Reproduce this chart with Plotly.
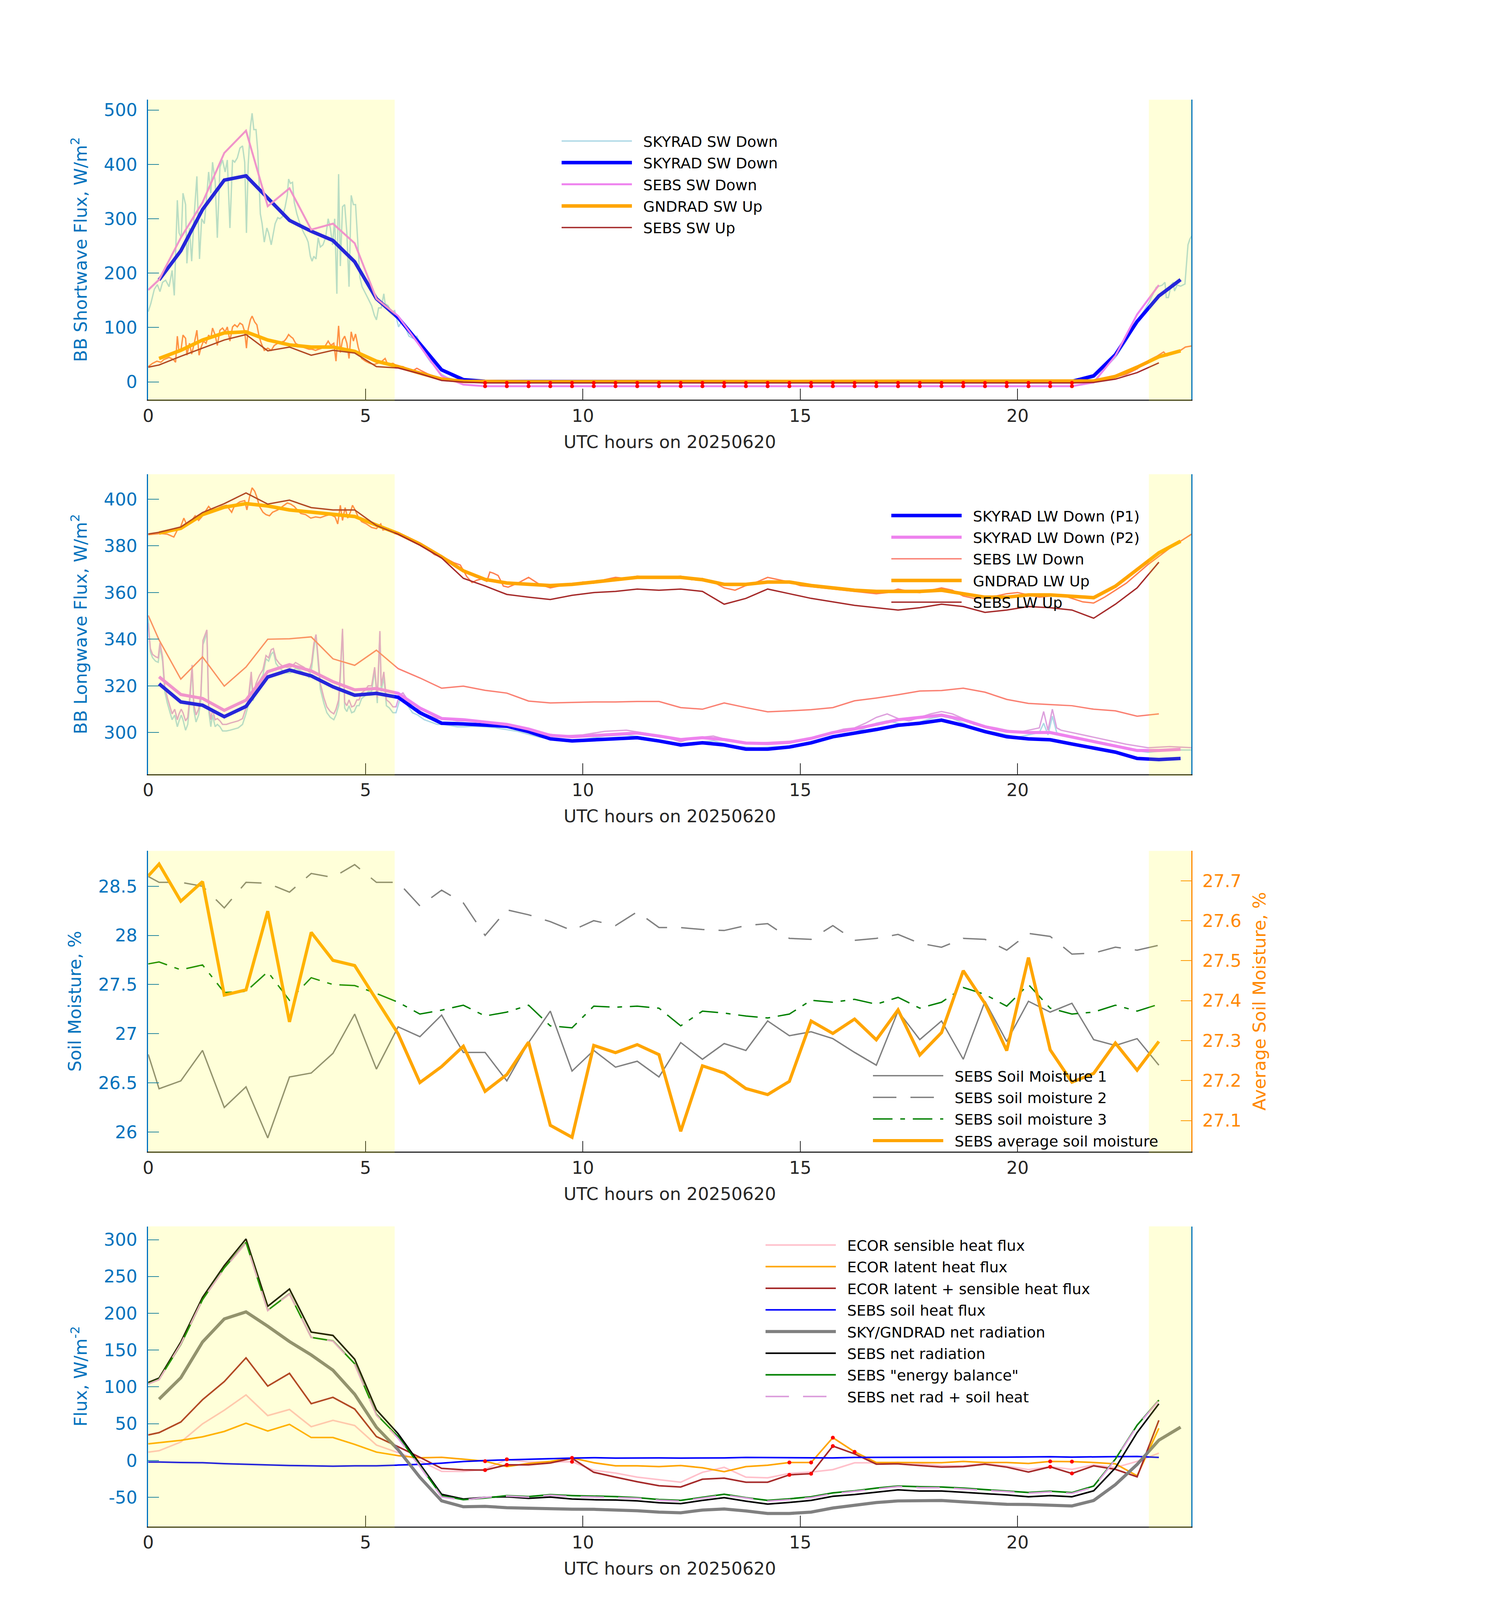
import numpy as np
import plotly.graph_objects as go

# ---------------- time bases ----------------
t_sky = np.arange(0.25, 24.0, 0.5)                                # SKYRAD/GNDRAD 30-min means
t_sebs = np.concatenate([[0.0], np.arange(0.25, 23.5, 0.5)])       # SEBS / ECOR 30-min

# ---------------- panel 1 : shortwave ----------------
sky_sw_dn = [187.5, 241, 317, 371, 379, 338, 297, 277, 260, 221, 153, 118, 70, 22, 4, 1.0,
             0.6, 0.5, 0.5, 0.5, 0.5, 0.5, 0.5, 0.5, 0.5, 0.5, 0.5, 0.5, 0.5,
             0.5, 0.5, 0.5, 0.5, 0.5, 0.5, 0.5, 0.5, 0.5, 0.5, 0.5, 0.5, 0.5,
             0.8, 11, 50, 111, 158, 188]
sebs_sw_dn = [169, 188, 265, 330, 421, 462, 323, 356, 280, 291, 255, 153, 121, 66, 11, -5,
              -8, -8, -8, -8, -8, -8, -8, -8, -8, -8, -8, -8, -8, -8,
              -8, -8, -8, -8, -8, -8, -8, -8, -8, -8, -8, -8, -8, -8,
              -1, 48, 124, 178]
gnd_sw_up = [43, 58, 77, 90, 92, 77, 68, 64, 64, 56, 38, 28, 16, 5, 1, 0.3,
             0.2, 0.2, 0.2, 0.2, 0.2, 0.2, 0.2, 0.2, 0.2, 0.2, 0.2, 0.2, 0.2,
             0.2, 0.2, 0.2, 0.2, 0.2, 0.2, 0.2, 0.2, 0.2, 0.2, 0.2, 0.2, 0.2,
             0.3, 1.5, 10, 27, 46, 57]
sebs_sw_up = [27, 31, 47, 62, 77, 87, 57, 64, 49, 58, 53, 28, 25.5, 15, 2.6, -0.5,
              -2, -2, -2, -2, -2, -2, -2, -2, -2, -2, -2, -2, -2, -2,
              -2, -2, -2, -2, -2, -2, -2, -2, -2, -2, -2, -2, -2, -2,
              -1, 5, 17, 35]

# 1-minute SKYRAD SW down
sw1m_t = [0, 0.06, 0.14, 0.21, 0.27, 0.33, 0.4, 0.48, 0.55, 0.6, 0.67, 0.71, 0.76, 0.8, 0.86, 0.89, 0.95,
          1.0, 1.06, 1.12, 1.18, 1.23, 1.29, 1.33, 1.39, 1.44, 1.48, 1.54, 1.59, 1.65, 1.71, 1.77, 1.82,
          1.88, 1.94, 1.99, 2.05, 2.11, 2.17, 2.22, 2.26, 2.3, 2.35, 2.39, 2.43, 2.48, 2.52, 2.58, 2.62,
          2.67, 2.73, 2.77, 2.83, 2.88, 2.92, 2.98, 3.03, 3.09, 3.15, 3.2, 3.23, 3.27, 3.32, 3.36, 3.42,
          3.47, 3.53, 3.58, 3.64, 3.68, 3.73, 3.77, 3.81, 3.86, 3.91, 3.96, 4.02, 4.08, 4.14, 4.19, 4.24,
          4.29, 4.34, 4.38, 4.42, 4.47, 4.52, 4.57, 4.62, 4.67, 4.72, 4.77, 4.82, 4.87, 4.92, 4.98, 5.06,
          5.14, 5.2, 5.25, 5.3, 5.36, 5.42, 5.45, 5.52, 5.59, 5.67, 5.76, 5.82, 5.91, 6.0, 6.1, 6.18,
          6.27, 6.39, 6.5, 6.61, 6.73, 6.88, 7.03, 7.18, 7.33, 7.5, 21.4, 21.5, 21.75, 22.0, 22.25, 22.5,
          22.75, 23.03, 23.19, 23.33, 23.39, 23.42, 23.47, 23.53, 23.58, 23.61, 23.67, 23.75, 23.85,
          23.89, 23.92, 23.96, 24.0]
sw1m_v = [129, 144, 170, 179, 166, 183, 187, 175, 205, 159, 334, 274, 265, 347, 326, 218, 283,
          222, 309, 378, 226, 300, 291, 326, 386, 347, 404, 369, 265, 395, 408, 386, 408,
          283, 408, 404, 412, 430, 434, 404, 274, 399, 468, 494, 464, 464, 425, 309, 291,
          257, 283, 274, 252, 274, 291, 302, 300, 304, 322, 343, 373, 365, 367, 330, 309,
          296, 283, 274, 265, 257, 231, 222, 231, 226, 265, 248, 252, 265, 300, 283, 252,
          300, 162, 382, 213, 322, 326, 274, 175, 343, 326, 326, 257, 192, 175, 166, 153,
          140, 123, 114, 136, 136, 162, 144, 140, 127, 131, 101, 110, 101, 84, 80, 84,
          67, 49, 36, 28, 15, 8, 4, 2, 1, 0.3, 0.3, 2, 8, 25, 45, 75,
          110, 147, 174, 178, 183, 155, 155, 178, 183, 167, 178, 176, 180,
          219, 252, 262, 268]
# 1-minute GNDRAD SW up
gsw1m_t = [0, 0.1, 0.2, 0.29, 0.36, 0.48, 0.58, 0.63, 0.67, 0.71, 0.76, 0.8, 0.86, 0.89, 0.95, 1.0,
           1.06, 1.12, 1.17, 1.21, 1.27, 1.33, 1.39, 1.44, 1.48, 1.54, 1.59, 1.65, 1.71, 1.77, 1.82,
           1.88, 1.94, 1.99, 2.05, 2.11, 2.17, 2.22, 2.26, 2.3, 2.35, 2.39, 2.45, 2.5, 2.55, 2.6, 2.67,
           2.75, 2.83, 2.9, 2.98, 3.05, 3.13, 3.18, 3.23, 3.28, 3.33, 3.39, 3.47, 3.55, 3.62, 3.7, 3.77,
           3.85, 3.92, 4.0, 4.08, 4.14, 4.2, 4.27, 4.32, 4.38, 4.42, 4.47, 4.52, 4.57, 4.62, 4.67, 4.72,
           4.77, 4.83, 4.91, 5.0, 5.1, 5.2, 5.35, 5.45, 5.51, 5.63, 5.74, 5.86, 5.97, 6.1, 6.18, 6.27,
           6.42, 6.58, 6.73, 6.95, 7.18, 7.4, 21.5, 21.75, 22.0, 22.25, 22.5, 22.75, 23.03, 23.2, 23.36,
           23.44, 23.56, 23.75, 23.86, 24.0]
gsw1m_v = [28, 34, 38, 36, 41, 45, 41, 36, 84, 54, 62, 86, 80, 49, 71, 51,
           71, 95, 49, 62, 75, 71, 86, 80, 99, 86, 67, 95, 99, 92, 101,
           75, 101, 105, 101, 108, 105, 92, 62, 97, 114, 121, 110, 105, 84, 71, 58,
           62, 58, 67, 71, 73, 75, 80, 87, 83, 80, 71, 67, 64, 62, 60, 60,
           58, 60, 62, 67, 75, 67, 71, 38, 103, 54, 77, 84, 71, 43, 92, 75,
           88, 64, 43, 38, 34, 32, 36, 43, 32, 34, 28, 28, 23, 21, 25, 21,
           15, 10, 5, 3, 1, 0.3, 0.3, 1, 4, 9, 14, 24, 40, 47, 55,
           48, 54, 58, 64, 66]

# ---------------- panel 2 : longwave ----------------
sky_lw_p1 = [320.9, 313.1, 311.7, 306.8, 311.2, 323.8, 326.8, 324.3, 319.6, 316.0, 316.8, 315.1,
             308.5, 304.0, 303.7, 303.2, 302.7, 300.4, 297.3, 296.4, 296.9, 297.3, 297.8, 296.4,
             294.7, 295.6, 294.7, 292.9, 292.9, 293.8, 295.6, 298.2, 299.6, 301.3, 303.1, 304.0,
             305.3, 303.1, 300.4, 298.2, 297.3, 296.9, 295.1, 293.3, 291.6, 288.9, 288.4, 288.9]
sky_lw_p2 = [323.9, 316.3, 314.6, 309.5, 313.9, 326.1, 329.1, 326.4, 321.8, 318.3, 318.9, 316.8,
             310.5, 306.0, 305.5, 304.5, 303.5, 301.5, 298.8, 298.2, 298.8, 299.5, 299.8, 298.5,
             297.0, 297.8, 297.0, 295.5, 295.3, 295.8, 297.5, 300.0, 301.5, 303.5, 305.5, 306.5,
             307.5, 305.5, 302.5, 300.5, 300.0, 300.0, 298.0, 296.0, 294.0, 292.3, 292.3, 292.8]
sebs_lw_dn = [350.2, 339.7, 322.9, 332.4, 319.9, 328.1, 340.0, 340.2, 341.0, 331.6, 328.8, 335.3,
              327.4, 323.4, 319.0, 319.9, 318.1, 316.9, 313.5, 312.7, 312.9, 313.1, 313.1, 313.3,
              313.3, 310.7, 310.0, 312.7, 310.7, 308.9, 309.3, 309.8, 310.7, 313.6, 314.8, 316.2,
              317.8, 318.0, 319.0, 317.3, 314.2, 312.5, 312.0, 311.5, 310.0, 309.3, 307.0, 308.0]
gnd_lw_up = [385.5, 387.5, 393.4, 396.6, 398.1, 397.1, 395.4, 394.4, 393.6, 392.6, 388.9, 385.3,
             380.8, 375.3, 369.3, 365.6, 364.1, 363.5, 363.0, 363.5, 364.5, 365.5, 366.5, 366.5,
             366.5, 365.5, 363.5, 363.5, 364.5, 364.5, 363.0, 362.0, 361.0, 360.5, 360.5, 360.5,
             361.0, 359.5, 358.0, 358.0, 359.0, 359.0, 358.5, 357.8, 362.7, 370.0, 377.0, 382.0]
sebs_lw_up = [385.1, 385.8, 388.1, 394.3, 398.1, 402.7, 397.9, 399.6, 396.4, 395.4, 395.4, 388.7,
              385.0, 380.3, 374.8, 366.1, 362.8, 359.2, 358.0, 357.0, 358.8, 360.0, 360.5, 361.5,
              361.0, 361.5, 360.5, 355.0, 357.5, 361.5, 359.5, 357.5, 356.0, 354.5, 353.5, 352.5,
              353.5, 355.0, 354.0, 351.5, 352.5, 354.0, 353.5, 352.5, 349.0, 355.0, 362.0, 373.0]

# 1-minute LW down (both pyrgeometers) and LW up
lw1m_t = [0, 0.05, 0.1, 0.17, 0.23, 0.27, 0.33, 0.38, 0.44, 0.5, 0.55, 0.61, 0.67, 0.71, 0.76, 0.8,
          0.86, 0.91, 0.95, 1.01, 1.05, 1.1, 1.16, 1.21, 1.26, 1.3, 1.35, 1.39, 1.44, 1.48, 1.54, 1.59,
          1.65, 1.71, 1.8, 1.88, 1.97, 2.07, 2.17, 2.24, 2.3, 2.37, 2.41, 2.48, 2.56, 2.64, 2.71, 2.77,
          2.83, 2.88, 2.94, 3.02, 3.09, 3.18, 3.28, 3.39, 3.48, 3.58, 3.7, 3.76, 3.81, 3.86, 3.91, 3.96,
          4.04, 4.11, 4.19, 4.27, 4.32, 4.38, 4.42, 4.47, 4.52, 4.57, 4.62, 4.68, 4.74, 4.8, 4.85, 4.91,
          4.98, 5.06, 5.14, 5.21, 5.27, 5.33, 5.36, 5.42, 5.48, 5.55, 5.63, 5.7, 5.78, 5.86, 5.97, 6.08,
          6.2, 6.35, 6.5, 6.65, 6.8, 6.95, 7.11, 7.26, 7.48, 7.75, 8.0, 8.5, 9.0, 9.5, 10.0, 10.5, 11.0,
          11.5, 12.0, 12.25, 12.5, 12.75, 13.0, 13.5, 14.0, 14.5, 15.0, 15.5, 16.0, 16.25, 16.5, 16.75,
          17.0, 17.25, 17.5, 17.75, 18.0, 18.25, 18.5, 18.75, 19.0, 19.5, 20.0, 20.25, 20.5, 20.6, 20.7,
          20.8, 20.9, 21.0, 21.5, 22.0, 22.5, 23.0, 23.5, 24.0]
lw1m_p1 = [348.7, 334.6, 332.1, 330.6, 330.1, 336.6, 330.6, 317.6, 312.6, 308.5, 305.5, 307.5, 302.5, 305.0, 307.5, 305.5,
           301.0, 303.5, 311.5, 327.6, 309.5, 304.5, 307.5, 313.6, 337.7, 339.7, 343.2, 309.5, 302.5, 307.5, 302.5, 303.5,
           302.5, 300.7, 300.7, 301.0, 301.5, 302.0, 303.5, 307.5, 311.5, 324.1, 313.6, 318.6, 322.1, 324.6, 331.6, 330.6,
           333.6, 334.6, 329.6, 327.6, 326.6, 325.6, 325.6, 327.6, 326.8, 325.6, 323.6, 327.6, 335.6, 341.7, 329.6, 318.6,
           312.6, 308.5, 306.5, 305.5, 307.5, 311.5, 323.6, 343.7, 310.5, 309.0, 311.5, 308.5, 309.0, 311.5, 311.5, 314.6,
           315.6, 317.6, 317.6, 326.6, 312.6, 342.7, 317.6, 323.6, 311.5, 310.5, 308.5, 308.5, 313.6, 314.6, 311.5, 308.5,
           307.5, 305.5, 304.5, 303.5, 303.5, 303.0, 302.5, 302.5, 302.7, 302.5, 302.0, 300.5, 298.0, 296.5, 297.0, 298.5, 299.0,
           297.5, 295.5, 294.0, 295.5, 296.0, 296.5, 294.0, 293.5, 294.0, 294.5, 297.0, 299.5, 300.0, 302.0, 304.0,
           305.0, 304.0, 303.0, 304.5, 306.0, 307.0, 306.0, 304.0, 301.5, 300.0, 298.0, 299.0, 300.0, 304.0, 299.0,
           307.0, 300.0, 299.0, 297.0, 295.0, 293.0, 291.5, 292.5, 292.5]
lw1m_p2 = [347.0, 336.0, 333.5, 332.5, 332.0, 338.5, 332.5, 320.0, 315.0, 311.0, 308.0, 310.0, 305.5, 308.0, 310.0, 308.5,
           305.0, 306.5, 314.0, 329.0, 312.0, 307.5, 310.0, 316.0, 339.5, 341.5, 344.0, 312.0, 305.5, 310.0, 305.5, 306.0,
           305.0, 303.5, 303.5, 304.0, 304.5, 305.0, 306.0, 310.0, 314.0, 326.0, 316.0, 321.0, 324.5, 327.0, 333.0, 332.0,
           335.5, 336.0, 331.5, 329.5, 328.5, 328.0, 328.0, 330.0, 329.0, 328.0, 326.0, 330.0, 338.0, 342.0, 332.0, 321.0,
           315.0, 311.0, 309.0, 308.0, 310.0, 314.0, 326.0, 344.5, 313.0, 311.5, 314.0, 311.0, 311.5, 314.0, 314.0, 317.0,
           318.0, 320.0, 320.0, 328.0, 315.0, 343.5, 320.0, 326.0, 314.0, 313.0, 311.0, 311.0, 316.0, 317.0, 314.0, 311.0,
           310.0, 308.0, 307.0, 306.0, 306.0, 305.5, 305.0, 305.0, 305.0, 304.5, 304.0, 302.5, 300.0, 298.5, 299.0, 300.5, 301.0,
           299.5, 297.5, 296.0, 297.5, 298.0, 298.5, 296.0, 295.5, 296.0, 296.5, 299.0, 301.5, 302.0, 304.0, 306.5,
           308.0, 306.0, 305.0, 306.5, 308.0, 309.0, 308.0, 306.0, 303.5, 302.0, 300.0, 301.0, 302.0, 309.0, 301.0,
           310.0, 302.0, 301.0, 299.0, 297.0, 295.0, 293.5, 294.0, 293.5]
lwu1m_t = [0, 0.14, 0.29, 0.44, 0.59, 0.67, 0.74, 0.82, 0.89, 1.0, 1.08, 1.16, 1.23, 1.3, 1.39, 1.46,
           1.58, 1.69, 1.8, 1.92, 1.99, 2.11, 2.22, 2.27, 2.33, 2.39, 2.45, 2.5, 2.56, 2.64, 2.71, 2.79,
           2.86, 2.98, 3.09, 3.2, 3.28, 3.36, 3.43, 3.51, 3.62, 3.74, 3.85, 3.96, 4.08, 4.19, 4.3, 4.36,
           4.42, 4.47, 4.53, 4.59, 4.65, 4.7, 4.76, 4.83, 4.91, 5.02, 5.14, 5.25, 5.35, 5.4, 5.52, 5.67,
           5.82, 5.97, 6.12, 6.27, 6.42, 6.58, 6.73, 6.88, 7.03, 7.18, 7.33, 7.45, 7.56, 7.67, 7.79, 7.86,
           7.94, 8.05, 8.17, 8.28, 8.5, 8.75, 9.0, 9.25, 9.5, 9.75, 10.0, 10.25, 10.5, 10.75, 11.0, 11.25,
           11.5, 11.75, 12.0, 12.25, 12.5, 12.75, 13.0, 13.25, 13.5, 13.75, 14.0, 14.25, 14.5, 14.75, 15.0,
           15.25, 15.5, 15.75, 16.0, 16.25, 16.5, 16.75, 17.0, 17.25, 17.5, 17.75, 18.0, 18.25, 18.5, 18.75,
           19.0, 19.25, 19.5, 19.75, 20.0, 20.25, 20.5, 20.75, 21.0, 21.25, 21.5, 21.75, 22.0, 22.25, 22.5,
           22.75, 23.0, 23.25, 23.5, 23.75, 24.0]
lwu1m_v = [384.8, 385.1, 385.3, 385.0, 383.8, 386.8, 387.9, 391.9, 388.9, 390.9, 392.9, 390.9, 392.4, 394.4, 396.9, 395.4,
           395.9, 396.9, 397.4, 394.4, 397.4, 398.9, 399.4, 395.4, 400.9, 404.9, 403.4, 400.9, 396.9, 394.4, 393.4, 392.9,
           394.4, 395.4, 396.9, 398.4, 397.9, 396.9, 395.4, 393.9, 393.4, 391.9, 392.4, 392.1, 392.9, 393.4, 392.4, 389.4,
           397.4, 390.9, 396.4, 391.9, 394.4, 397.4, 395.4, 392.4, 390.4, 389.4, 387.9, 387.4, 389.4, 386.8, 387.4, 385.3,
           384.8, 383.8, 381.8, 380.3, 378.8, 376.3, 375.3, 374.3, 372.8, 371.8, 366.8, 364.3, 365.3, 365.8, 364.8, 368.8,
           368.3, 367.3, 362.8, 362.3, 364.0, 366.5, 363.5, 362.0, 363.0, 363.5, 364.5, 364.0, 365.5, 366.5, 366.0, 367.0,
           366.5, 366.5, 366.5, 367.0, 365.5, 366.0, 364.5, 362.0, 361.0, 363.0, 364.5, 366.5, 365.5, 364.5, 363.0,
           362.5, 362.0, 361.5, 361.0, 360.5, 360.0, 359.5, 360.0, 361.5, 360.5, 360.0, 361.0, 362.0, 361.0, 358.5,
           357.5, 358.0, 358.5, 359.5, 360.0, 359.0, 358.0, 358.5, 359.0, 357.5, 356.0, 355.5, 358.0, 361.0, 364.0,
           368.0, 372.0, 375.5, 379.0, 382.0, 385.0]

# ---------------- panel 3 : soil moisture ----------------
sm1 = [26.79, 26.44, 26.52, 26.83, 26.25, 26.46, 25.94, 26.56, 26.60, 26.80, 27.20, 26.64,
       27.07, 26.97, 27.19, 26.81, 26.81, 26.52, 26.91, 27.23, 26.62, 26.83, 26.66, 26.72,
       26.56, 26.91, 26.74, 26.90, 26.83, 27.13, 26.98, 27.02, 26.95, 26.81, 26.68, 27.23,
       26.94, 27.13, 26.74, 27.33, 26.92, 27.33, 27.22, 27.31, 26.94, 26.88, 26.95, 26.68]
sm2 = [28.60, 28.54, 28.54, 28.50, 28.28, 28.54, 28.53, 28.44, 28.63, 28.59, 28.72, 28.54,
       28.54, 28.30, 28.46, 28.33, 28.00, 28.26, 28.21, 28.14, 28.05, 28.15, 28.10, 28.24,
       28.08, 28.08, 28.06, 28.05, 28.10, 28.12, 27.97, 27.96, 28.10, 27.95, 27.97, 28.01,
       27.92, 27.88, 27.97, 27.96, 27.85, 28.02, 27.99, 27.81, 27.82, 27.88, 27.85, 27.90]
sm3 = [27.71, 27.73, 27.65, 27.70, 27.42, 27.43, 27.63, 27.34, 27.57, 27.50, 27.49, 27.41,
       27.32, 27.20, 27.24, 27.29, 27.18, 27.22, 27.29, 27.08, 27.06, 27.28, 27.27, 27.28,
       27.26, 27.08, 27.23, 27.21, 27.18, 27.16, 27.20, 27.34, 27.32, 27.35, 27.30, 27.37,
       27.26, 27.32, 27.47, 27.40, 27.28, 27.50, 27.26, 27.20, 27.22, 27.29, 27.23, 27.30]
sm_avg = [27.712, 27.742, 27.649, 27.698, 27.414, 27.427, 27.624, 27.347, 27.571, 27.501, 27.488, 27.402,
          27.317, 27.195, 27.235, 27.286, 27.173, 27.215, 27.296, 27.088, 27.058, 27.288, 27.270, 27.290,
          27.265, 27.073, 27.237, 27.219, 27.180, 27.165, 27.198, 27.349, 27.318, 27.354, 27.302, 27.377,
          27.264, 27.320, 27.475, 27.393, 27.275, 27.508, 27.277, 27.196, 27.218, 27.294, 27.226, 27.298]

# ---------------- panel 4 : surface energy fluxes ----------------
ecor_h = [11.4, 13.3, 25.1, 49.8, 68.3, 89.1, 61.0, 69.3, 45.9, 54.6, 47.5, 21.0, 10.7, -0.4, -14.8, -14.8,
          -12.0, 1.6, -2.1, -2.1, -1.7, -13.2, -17.0, -22.6, -26.3, -29.5, -16.0, -9.2, -22.6, -23.5, -17.6, -15.7,
          -12.4, -3.1, -3.1, -2.5, -4.5, -6.8, -7.2, -4.0, -7.7, -12.4, -8.6, -12.0, -5.9, -9.6, -1.2, 10.0]
ecor_le = [22.6, 24.2, 27.4, 32.2, 39.5, 50.7, 40.1, 49.1, 31.2, 31.2, 21.9, 11.4, 6.6, 3.7, 4.3, 1.8,
           -1.0, -8.3, -4.0, -1.2, 3.5, -3.0, -7.2, -7.2, -8.3, -6.8, -9.9, -15.1, -8.3, -6.4, -2.7, -2.7,
           31.0, 11.8, -2.7, -2.7, -3.0, -3.0, -1.2, -2.7, -2.7, -4.0, -1.2, -1.5, -2.7, -4.6, -20.8, 43.8]
ecor_sum = [34.7, 37.9, 52.3, 82.6, 107.2, 139.5, 101.1, 118.4, 77.2, 85.8, 69.9, 32.5, 18.7, 4.3, -10.7, -12.6,
            -13.0, -5.9, -5.9, -3.4, 3.0, -16.0, -22.6, -28.8, -34.3, -36.0, -25.4, -23.9, -29.5, -29.5, -19.5, -17.9,
            19.6, 9.0, -4.9, -4.5, -6.8, -9.0, -8.3, -4.9, -9.0, -15.7, -8.6, -17.6, -7.2, -12.0, -22.2, 54.6]
sebs_g = [-2.1, -2.1, -2.7, -3.0, -4.3, -5.2, -5.9, -6.8, -7.2, -7.8, -7.2, -7.2, -6.2, -5.2, -3.6, -1.4,
          0.0, 1.0, 1.6, 2.5, 3.3, 3.8, 3.3, 3.5, 3.5, 3.3, 3.3, 3.5, 4.2, 4.0, 3.8, 3.8,
          3.5, 4.2, 4.2, 4.4, 4.6, 4.6, 4.4, 4.6, 4.6, 4.8, 5.1, 4.6, 5.1, 5.3, 5.5, 4.2]
sky_net = [83.3, 112.4, 161.0, 192.3, 201.9, 182.4, 161.6, 143.4, 122.6, 90.0, 45.2, 14.6, -22.8, -54.8, -62.8, -62.2,
           -64.1, -65.0, -65.9, -66.1, -66.3, -66.9, -68.2, -70.1, -71.0, -67.3, -65.9, -68.5, -71.9, -71.9, -70.1, -64.5,
           -60.8, -57.1, -54.9, -54.7, -54.3, -56.1, -58.0, -59.5, -59.8, -60.8, -61.7, -54.3, -32.8, -5.3, 27.6, 45.3]
sebs_net = [105.9, 112.0, 161.0, 221.6, 264.8, 300.9, 209.5, 232.9, 174.4, 169.9, 137.6, 68.9, 36.3, -5.0, -45.9, -52.3,
            -50.0, -49.2, -51.4, -49.6, -52.3, -53.3, -53.6, -54.8, -57.4, -58.5, -54.2, -50.5, -55.2, -59.2, -57.0, -54.2,
            -48.6, -46.2, -43.1, -39.9, -41.5, -41.5, -43.1, -44.9, -46.8, -49.2, -47.7, -49.2, -41.2, -10.0, 38.0, 77.0]
sebs_eb = [104.4, 110.4, 157.7, 218.5, 261.7, 296.3, 204.1, 226.5, 167.3, 162.5, 131.5, 62.6, 32.5, -7.0, -47.8, -53.2,
           -51.0, -47.7, -49.0, -46.4, -47.7, -48.6, -49.0, -50.5, -53.0, -54.2, -50.0, -45.8, -50.5, -54.2, -52.0, -49.2,
           -44.0, -41.2, -37.5, -34.7, -35.6, -36.0, -37.5, -39.3, -41.2, -43.4, -41.7, -43.6, -34.7, 2.0, 48.0, 82.0]
sebs_netg = [103.8, 109.9, 158.3, 218.6, 260.5, 295.7, 203.6, 226.1, 167.2, 162.1, 130.4, 61.7, 30.1, -8.2, -49.5, -53.7,
             -50.0, -48.2, -49.8, -47.1, -49.0, -49.5, -50.3, -51.3, -53.9, -55.2, -50.9, -47.0, -51.0, -55.2, -53.2, -50.4,
             -45.1, -42.0, -38.9, -35.5, -36.9, -36.9, -38.7, -40.3, -42.2, -44.4, -42.6, -44.6, -36.1, 1.5, 47.0, 81.5]

# QC-flagged samples (hours)
flag_sw_hours = [7.75, 8.25, 8.75, 9.25, 9.75, 10.25, 10.75, 11.25, 11.75, 12.25, 12.75, 13.25, 13.75, 14.25,
                 14.75, 15.25, 15.75, 16.25, 16.75, 17.25, 17.75, 18.25, 18.75, 19.25, 19.75, 20.25, 20.75, 21.25]
flag_le_hours = [7.75, 9.75, 14.75, 15.25, 15.75, 16.25, 20.75, 21.25]
flag_sum_hours = [7.75, 8.25, 14.75, 15.25, 15.75, 20.75, 21.25]
flag_h_hours = [8.25, 9.75]

# daylight periods
day_spans = [(0.0, 5.67), (23.02, 24.0)]

# ---------------- styling ----------------
FONT = "DejaVu Sans"
AX_BLUE = "#0072BD"
AX_ORANGE = "#FF8800"
DARK = "#262626"
TICK_FS = 45
LEG_FS = 38

fig = go.Figure()


def pick(t, vals, hours):
    t = np.asarray(t)
    v = np.asarray(vals, dtype=float)
    idx = [int(np.argmin(np.abs(t - h))) for h in hours]
    return t[idx], v[idx]


def line(x, y, name, color, width, ax, legend=None, dash=None, show=True):
    xa, ya = ax
    fig.add_trace(go.Scatter(
        x=x, y=y, mode="lines", name=name,
        line=dict(color=color, width=width, dash=dash),
        xaxis=xa, yaxis=ya, showlegend=show and legend is not None,
        legend=legend if legend else "legend",
        legendgroup=f"{legend}-{name}-{len(fig.data)}",
        hoverinfo="skip"))


def flags(x, y, ax):
    xa, ya = ax
    fig.add_trace(go.Scatter(x=x, y=y, mode="markers", marker=dict(color="red", size=10),
                             xaxis=xa, yaxis=ya, showlegend=False, hoverinfo="skip"))


# panel 1
A1 = ("x", "y")
line(sw1m_t, sw1m_v, "SKYRAD SW Down", "#ADD8E6", 3.5, A1, "legend")
line(gsw1m_t, gsw1m_v, "GNDRAD SW Up 1min", "#FF7F50", 3.5, A1, None)
line(t_sky, sky_sw_dn, "SKYRAD SW Down", "#0000FF", 9, A1, "legend")
line(t_sebs, sebs_sw_dn, "SEBS SW Down", "#EE82EE", 5, A1, "legend")
line(t_sky, gnd_sw_up, "GNDRAD SW Up", "#FFA500", 9, A1, "legend")
line(t_sebs, sebs_sw_up, "SEBS SW Up", "#A52A2A", 3.5, A1, "legend")
flags(*pick(t_sebs, sebs_sw_dn, flag_sw_hours), A1)
flags(*pick(t_sebs, sebs_sw_up, flag_sw_hours), A1)

# panel 2
A2 = ("x2", "y2")
line(lw1m_t, lw1m_p1, "P1 1min", "#ADD8E6", 3.5, A2, None)
line(lw1m_t, lw1m_p2, "P2 1min", "#DDA0DD", 3.5, A2, None)
line(lwu1m_t, lwu1m_v, "LW up 1min", "#FF7F50", 3.5, A2, None)
line(t_sky, sky_lw_p1, "SKYRAD LW Down (P1)", "#0000FF", 9, A2, "legend2")
line(t_sky, sky_lw_p2, "SKYRAD LW Down (P2)", "#EE82EE", 8, A2, "legend2")
line(t_sebs, sebs_lw_dn, "SEBS LW Down", "#FA8072", 3.5, A2, "legend2")
line(t_sky, gnd_lw_up, "GNDRAD LW Up", "#FFA500", 9, A2, "legend2")
line(t_sebs, sebs_lw_up, "SEBS LW Up", "#A52A2A", 3.5, A2, "legend2")

# panel 3
A3 = ("x3", "y3")
line(t_sebs, sm1, "SEBS Soil Moisture 1", "#808080", 3.5, A3, "legend3")
line(t_sebs, sm2, "SEBS soil moisture 2", "#808080", 3.5, A3, "legend3", dash="60px,36px")
line(t_sebs, sm3, "SEBS soil moisture 3", "#008000", 3.5, A3, "legend3", dash="50px,20px,12px,20px")
line(t_sebs, sm_avg, "SEBS average soil moisture", "#FFA500", 8, ("x3", "y5"), "legend3")

# panel 4
A4 = ("x4", "y4")
line(t_sebs, ecor_h, "ECOR sensible heat flux", "#FFC0CB", 4, A4, "legend4")
line(t_sebs, ecor_le, "ECOR latent heat flux", "#FFA500", 4, A4, "legend4")
line(t_sebs, ecor_sum, "ECOR latent + sensible heat flux", "#A52A2A", 4, A4, "legend4")
line(t_sebs, sebs_g, "SEBS soil heat flux", "#0000FF", 4, A4, "legend4")
line(t_sky, sky_net, "SKY/GNDRAD net radiation", "#808080", 8, A4, "legend4")
line(t_sebs, sebs_net, "SEBS net radiation", "#000000", 4, A4, "legend4")
line(t_sebs, sebs_eb, 'SEBS "energy balance"', "#008000", 4, A4, "legend4")
line(t_sebs, sebs_netg, "SEBS net rad + soil heat", "#DDA0DD", 4, A4, "legend4", dash="60px,36px")
flags(*pick(t_sebs, ecor_le, flag_le_hours), A4)
flags(*pick(t_sebs, ecor_sum, flag_sum_hours), A4)
flags(*pick(t_sebs, ecor_h, flag_h_hours), A4)

# ---------------- layout ----------------
xdom = [0.0992, 0.7975]
ydoms = [[0.7503, 0.9377], [0.5162, 0.7036], [0.2802, 0.4682], [0.0460, 0.2335]]


def xax(i):
    return dict(domain=xdom, anchor=f"y{'' if i == 1 else i}", range=[0, 24],
                tickvals=[0, 5, 10, 15, 20], ticks="inside", ticklen=28, tickwidth=2,
                tickcolor=DARK, showline=True, linecolor=DARK, linewidth=2.5,
                showgrid=False, zeroline=False, automargin=False,
                tickfont=dict(family=FONT, size=TICK_FS, color=DARK), ticklabelstandoff=0,
                title=dict(text="UTC hours on 20250620", font=dict(family=FONT, size=TICK_FS, color=DARK),
                           standoff=26))


def yax(i, rng, vals, texts, title, mirror=True):
    return dict(domain=ydoms[i - 1], anchor=f"x{'' if i == 1 else i}", range=rng,
                tickvals=vals, ticktext=texts, ticks="inside", ticklen=28, tickwidth=2,
                tickcolor=AX_BLUE, showline=True, linecolor=AX_BLUE, linewidth=2.5, mirror=mirror,
                showgrid=False, zeroline=False, automargin=False,
                tickfont=dict(family=FONT, size=TICK_FS, color=AX_BLUE), ticklabelstandoff=16,
                title=dict(text=title, font=dict(family=FONT, size=TICK_FS, color=AX_BLUE), standoff=30))


v1 = [0, 100, 200, 300, 400, 500]
v2 = [300, 320, 340, 360, 380, 400]
v3 = [26, 26.5, 27, 27.5, 28, 28.5]
v4 = [-50, 0, 50, 100, 150, 200, 250, 300]
v5 = [27.1, 27.2, 27.3, 27.4, 27.5, 27.6, 27.7]

layout = dict(
    autosize=True,
    margin=dict(l=0, r=0, t=0, b=0),
    paper_bgcolor="white", plot_bgcolor="white",
    font=dict(family=FONT, size=TICK_FS, color=DARK),
    xaxis=xax(1), xaxis2=xax(2), xaxis3=xax(3), xaxis4=xax(4),
    yaxis=yax(1, [-32.5, 519], v1, [str(v) for v in v1], "BB Shortwave Flux, W/m<sup>2</sup>"),
    yaxis2=yax(2, [282.2, 410.7], v2, [str(v) for v in v2], "BB Longwave Flux, W/m<sup>2</sup>"),
    yaxis3=yax(3, [25.8, 28.86], v3, ["26", "26.5", "27", "27.5", "28", "28.5"], "Soil Moisture, %", mirror=False),
    yaxis4=yax(4, [-89.5, 318], v4, [str(v) for v in v4], "Flux, W/m<sup>-2</sup>"),
    yaxis5=dict(overlaying="y3", side="right", anchor="x3", range=[27.022, 27.775],
                tickvals=v5, ticktext=[f"{v:.1f}" for v in v5], ticks="inside", ticklen=28, tickwidth=2,
                tickcolor=AX_ORANGE, showline=True, linecolor=AX_ORANGE, linewidth=2.5,
                showgrid=False, zeroline=False, automargin=False,
                tickfont=dict(family=FONT, size=TICK_FS, color=AX_ORANGE), ticklabelstandoff=16,
                title=dict(text="Average Soil Moisture, %", font=dict(family=FONT, size=TICK_FS, color=AX_ORANGE),
                           standoff=32)),
)

leg_common = dict(font=dict(family=FONT, size=LEG_FS, color="black"), bgcolor="rgba(0,0,0,0)",
                  borderwidth=0, xanchor="left", yanchor="top", itemwidth=204,
                  traceorder="grouped", tracegroupgap=3, itemclick=False, itemdoubleclick=False)
layout["legend"] = dict(x=0.3746, y=0.9195, **leg_common)
layout["legend2"] = dict(x=0.5953, y=0.6854, **leg_common)
layout["legend3"] = dict(x=0.5830, y=0.3353, **leg_common)
layout["legend4"] = dict(x=0.5111, y=0.2295, **leg_common)

shapes = []
for i in range(1, 5):
    xr = "x" if i == 1 else f"x{i}"
    yr = "y domain" if i == 1 else f"y{i} domain"
    for a, b in day_spans:
        shapes.append(dict(type="rect", xref=xr, yref=yr, x0=a, x1=b, y0=-0.006, y1=1.0,
                           fillcolor="rgba(255,255,0,0.15)", line=dict(width=0), layer="above"))
layout["shapes"] = shapes

fig.update_layout(**layout)

post = """
var gd = document.getElementById('{plot_id}');
document.documentElement.style.margin = '0';
document.documentElement.style.padding = '0';
document.body.style.margin = '0';
document.body.style.padding = '0';
document.body.style.overflow = 'hidden';
function fixLeg(){
  var ps = gd.querySelectorAll('g.legendlines path.js-line');
  for (var i = 0; i < ps.length; i++) { ps[i].setAttribute('d', 'M5,0h180'); }
}
if (gd.on) { gd.on('plotly_afterplot', fixLeg); }
fixLeg();
Plotly.Plots.resize(gd).then(fixLeg);
"""
fig.write_html("out.html", post_script=post, default_width="100vw", default_height="100vh",
               config={"responsive": True, "displayModeBar": False})
